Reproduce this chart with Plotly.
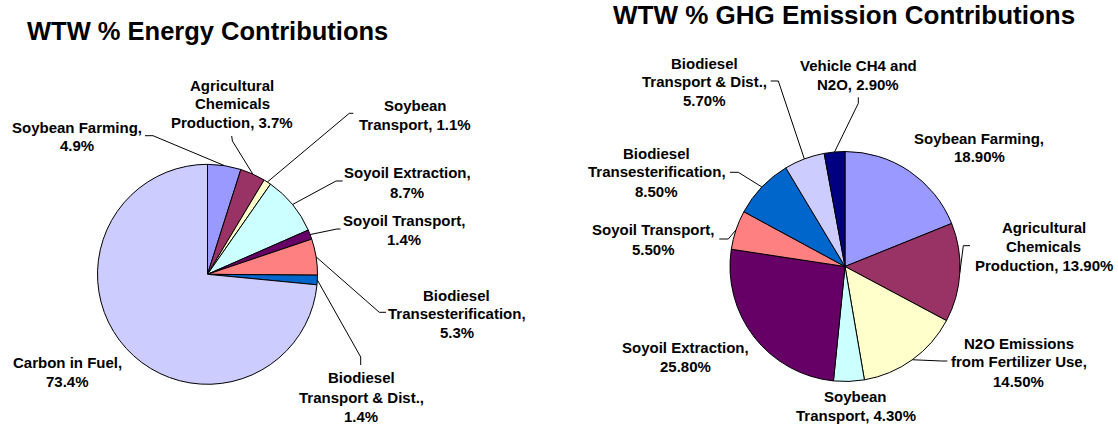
import math
import plotly.graph_objects as go

W, H = 1118, 425

# ---------------- data ----------------
energy_categories = [
    "Soybean Farming", "Agricultural Chemicals Production", "Soybean Transport",
    "Soyoil Extraction", "Soyoil Transport", "Biodiesel Transesterification",
    "Biodiesel Transport & Dist.", "Carbon in Fuel",
]
energy_values = [4.9, 3.7, 1.1, 8.7, 1.4, 5.3, 1.4, 73.4]

ghg_categories = [
    "Soybean Farming", "Agricultural Chemicals Production", "N2O Emissions from Fertilizer Use",
    "Soybean Transport", "Soyoil Extraction", "Soyoil Transport",
    "Biodiesel Transesterification", "Biodiesel Transport & Dist.", "Vehicle CH4 and N2O",
]
ghg_values = [18.9, 13.9, 14.5, 4.3, 25.8, 5.5, 8.5, 5.7, 2.9]

energy_title = "WTW % Energy Contributions"
ghg_title = "WTW % GHG Emission Contributions"

# ---------------- style / layout ----------------
energy_colors = ["#9999FF", "#993366", "#FFFFCC", "#CCFFFF", "#660066",
                 "#FF8080", "#0066CC", "#CCCCFF"]
ghg_colors = ["#9999FF", "#993366", "#FFFFCC", "#CCFFFF", "#660066",
              "#FF8080", "#0066CC", "#CCCCFF", "#000080"]

FONT = "Liberation Sans, Arial, sans-serif"
LABEL_SIZE = 15

# pie geometry in pixels: center x, center y (from top), radius
energy_geo = (207.5, 274.3, 110)
ghg_geo = (845.0, 266.5, 115)

# label layout: words per line, center x, line center ys, leader polyline (label side first)
energy_label_layout = [
    ([2, 1], 77.2, [127.3, 145.8], [(145, 135.7), (153, 135.7)]),
    ([1, 1, 2], 232.0, [85.3, 103.8, 122.2], [(231.7, 136), (232.4, 141)]),
    ([1, 2], 415.0, [105.3, 124.7], [(353.3, 113.3), (349.3, 113.3)]),
    ([2, 1], 407.5, [173.0, 192.8], [(342.7, 181), (336.0, 181)]),
    ([2, 1], 404.0, [220.0, 239.5], [(340.5, 229), (337.0, 229)]),
    ([1, 1, 1], 456.7, [295.0, 313.3, 332.3], [(386.0, 312.3), (379.3, 312.3)]),
    ([1, 3, 1], 361.2, [377.5, 397.5, 416.0], [(360.7, 365), (360.7, 357)]),
    ([3, 1], 67.5, [362.7, 381.0], None),
]
ghg_label_layout = [
    ([2, 1], 979.2, [138.3, 156.7], None),
    ([1, 1, 2], 1043.5, [227.7, 246.0, 265.0], [(970.0, 245.7), (963.3, 245.7)]),
    ([2, 3, 1], 1018.7, [343.3, 361.7, 381.7], [(947.3, 361), (941.7, 361)]),
    ([1, 2], 855.8, [396.0, 415.0], None),
    ([2, 1], 685.0, [347.3, 366.7], None),
    ([2, 1], 653.3, [230.0, 249.5], [(719.3, 239), (728.3, 239)]),
    ([1, 1, 1], 656.8, [153.3, 171.7, 191.7], [(730.0, 172.3), (738.3, 172.3)]),
    ([1, 3, 1], 704.0, [63.3, 81.7, 100.7], [(770.7, 81), (778.3, 81)]),
    ([3, 2], 858.0, [65.0, 85.0], [(858.3, 97.3), (858.3, 103.3)]),
]


def px(x):
    return x / W


def py(y):
    return 1 - y / H


def domain(geo):
    cx, cy, r = geo
    return dict(x=[px(cx - r), px(cx + r)], y=[py(cy + r), py(cy - r)])


fig = go.Figure()
fig.add_trace(go.Pie(
    labels=energy_categories, values=energy_values, sort=False,
    direction="clockwise", rotation=0, textinfo="none", hoverinfo="label+value",
    marker=dict(colors=energy_colors, line=dict(color="black", width=1)),
    domain=domain(energy_geo), showlegend=False,
))
fig.add_trace(go.Pie(
    labels=ghg_categories, values=ghg_values, sort=False,
    direction="clockwise", rotation=0, textinfo="none", hoverinfo="label+value",
    marker=dict(colors=ghg_colors, line=dict(color="black", width=1)),
    domain=domain(ghg_geo), showlegend=False,
))

annotations = []
shapes = []


def add_labels(categories, values, fmt, layout, geo):
    cx, cy, r = geo
    total = sum(values)
    cum = 0.0
    for cat, val, (breaks, lx, lys, leader) in zip(categories, values, layout):
        mid = (cum + val / 2) / total
        cum += val
        words = f"{cat}, {val:{fmt}}%".split(" ")
        lines, i = [], 0
        for n in breaks:
            lines.append(" ".join(words[i:i + n]))
            i += n
        for line, ly in zip(lines, lys):
            annotations.append(dict(
                x=px(lx), y=py(ly), xref="paper", yref="paper",
                text=f"<b>{line}</b>", showarrow=False,
                xanchor="center", yanchor="middle",
                font=dict(family=FONT, size=LABEL_SIZE, color="black"),
            ))
        if leader:
            theta = 2 * math.pi * mid
            ex = cx + r * math.sin(theta)
            ey = cy - r * math.cos(theta)
            pts = list(leader) + [(ex, ey)]
            path = "M " + " L ".join(f"{px(a):.6f},{py(b):.6f}" for a, b in pts)
            shapes.append(dict(type="path", path=path, xref="paper", yref="paper",
                               line=dict(color="black", width=1), layer="above"))


add_labels(energy_categories, energy_values, ".1f", energy_label_layout, energy_geo)
add_labels(ghg_categories, ghg_values, ".2f", ghg_label_layout, ghg_geo)

annotations.append(dict(x=px(207.3), y=py(31.3), xref="paper", yref="paper",
                        text=f"<b>{energy_title}</b>", showarrow=False,
                        xanchor="center", yanchor="middle",
                        font=dict(family=FONT, size=25.5, color="black")))
annotations.append(dict(x=px(844.0), y=py(14.5), xref="paper", yref="paper",
                        text=f"<b>{ghg_title}</b>", showarrow=False,
                        xanchor="center", yanchor="middle",
                        font=dict(family=FONT, size=26, color="black")))

fig.update_layout(
    width=W, height=H, autosize=False,
    margin=dict(l=0, r=0, t=0, b=0, pad=0),
    paper_bgcolor="white", plot_bgcolor="white",
    annotations=annotations, shapes=shapes,
    font=dict(family=FONT),
)

fig.write_html(
    "out.html",
    config={"displayModeBar": False},
    post_script="document.body.style.margin='0';document.body.style.padding='0';"
                "document.body.style.overflow='hidden';",
)
